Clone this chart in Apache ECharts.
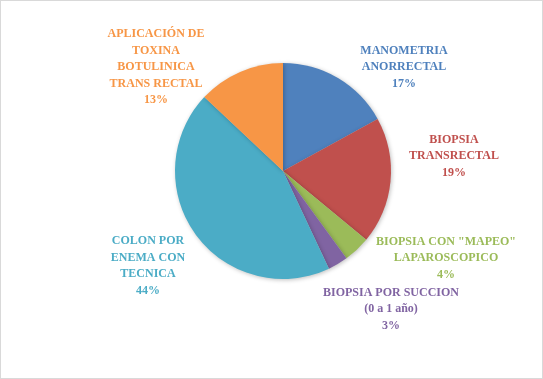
<!DOCTYPE html>
<html>
<head>
<meta charset="utf-8">
<script src="https://cdn.jsdelivr.net/npm/echarts@6/dist/echarts.min.js"></script>
<style>
html,body{margin:0;padding:0;background:#fff;}
#c{position:absolute;left:0;top:0;width:541px;height:377px;border:1px solid #d9d9d9;background:#fff;}
</style>
</head>
<body>
<div id="c"></div>
<script>
const categories = [
  'MANOMETRIA ANORRECTAL',
  'BIOPSIA TRANSRECTAL',
  'BIOPSIA CON "MAPEO" LAPAROSCOPICO',
  'BIOPSIA POR SUCCION (0 a 1 año)',
  'COLON POR ENEMA CON TECNICA',
  'APLICACIÓN DE TOXINA BOTULINICA TRANS RECTAL'
];
const values = [17, 19, 4, 3, 44, 13];
const labelText = [
  'MANOMETRIA\nANORRECTAL',
  'BIOPSIA\nTRANSRECTAL',
  'BIOPSIA CON "MAPEO"\nLAPAROSCOPICO',
  'BIOPSIA POR SUCCION\n(0 a 1 año)',
  'COLON POR\nENEMA CON\nTECNICA',
  'APLICACIÓN DE\nTOXINA\nBOTULINICA\nTRANS RECTAL'
];
const colors = ['#4F81BD', '#C0504D', '#9BBB59', '#8064A2', '#4BACC6', '#F79646'];
const labelPos = [[403, 66], [453, 155], [445, 257], [390, 308], [147, 265], [155, 66]];

const chart = echarts.init(document.getElementById('c'), null, {renderer: 'canvas'});
chart.setOption({
  animation: false,
  series: [{
    type: 'pie',
    center: [282, 170],
    radius: 108,
    startAngle: 90,
    clockwise: true,
    data: categories.map((n, i) => ({
      name: n,
      value: values[i],
      itemStyle: {color: colors[i]},
      label: {color: colors[i]}
    })),
    itemStyle: {
      borderWidth: 0,
      shadowBlur: 4,
      shadowColor: 'rgba(0,0,0,0.25)',
      shadowOffsetX: 1,
      shadowOffsetY: 1
    },
    label: {
      show: true,
      position: 'outside',
      overflow: 'none',
      width: 200,
      fontFamily: '"Liberation Serif", "DejaVu Serif", serif',
      fontWeight: 'bold',
      fontSize: 12,
      lineHeight: 16.5,
      align: 'center',
      formatter: p => labelText[p.dataIndex] + '\n' + p.value + '%'
    },
    labelLine: {show: false},
    labelLayout: p => ({
      x: labelPos[p.dataIndex][0],
      y: labelPos[p.dataIndex][1],
      align: 'center',
      verticalAlign: 'middle'
    })
  }]
});
</script>
</body>
</html>
